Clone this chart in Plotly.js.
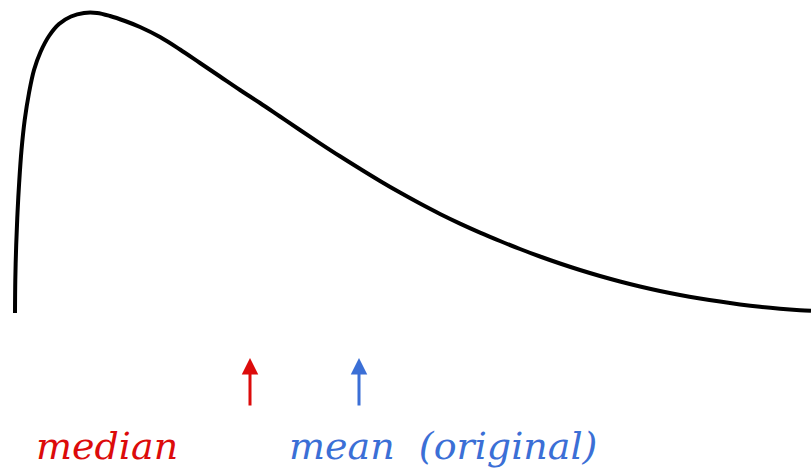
<!DOCTYPE html>
<html>
<head>
<meta charset="utf-8">
<script src="https://cdn.plot.ly/plotly-3.0.1.min.js"></script>
<style>html,body{margin:0;padding:0;background:#fff;}#chart{width:811px;height:474px;}</style>
</head>
<body>
<div id="chart"></div>
<script>
// Right-skewed density curve, sampled along the horizontal axis
const curveX = [15, 15.3, 16.2, 17.5, 19.2, 21.5, 24.7, 29, 34, 40.5, 49, 59, 71, 84, 97, 110, 125, 140, 160, 180, 200, 220, 240, 260, 280, 300, 320, 340, 360, 380, 400, 420, 440, 460, 480, 500, 520, 540, 560, 580, 600, 620, 640, 660, 680, 700, 720, 740, 760, 780, 800, 811];
const curveY = [313, 280, 245, 213, 182, 150, 120, 93, 70, 52, 36, 24, 16.5, 13, 13, 16, 21, 27, 37, 49.5, 63, 76.5, 90, 103, 116.5, 130, 143.3, 156.3, 168.8, 181, 192.6, 203.6, 214, 223.6, 232.6, 241, 249, 256.5, 263.5, 270, 276, 281.5, 286.5, 291, 295, 298.5, 301.6, 304.4, 306.8, 308.7, 310.2, 310.8];

// Marker positions for the two summary statistics
const statNames = ["median", "mean  (original)"];
const statX = [250, 359];
const statColors = ["#dc0b0b", "#3b6fd6"];
const arrowTipY = 358;
const arrowBaseY = 407;

// Label placement
const labelX = [34, 287];
const labelY = 446;

const trace = {
  x: curveX,
  y: curveY,
  mode: "lines",
  line: {color: "#000", width: 4, shape: "spline", smoothing: 1},
  hoverinfo: "skip"
};

const annotations = [];
statX.forEach((sx, i) => {
  annotations.push({
    x: sx, y: arrowTipY, ax: sx, ay: arrowBaseY,
    xref: "x", yref: "y", axref: "x", ayref: "y",
    showarrow: true, arrowhead: 2, arrowsize: 1.1, arrowwidth: 3,
    arrowcolor: statColors[i], text: ""
  });
  annotations.push({
    x: labelX[i], y: labelY, xref: "x", yref: "y",
    xanchor: "left", yanchor: "middle", showarrow: false,
    text: "<i>" + statNames[i] + "</i>",
    font: {family: "DejaVu Serif", size: 38, color: statColors[i]}
  });
});

const layout = {
  width: 811, height: 474,
  margin: {l: 0, r: 0, t: 0, b: 0},
  paper_bgcolor: "#fff", plot_bgcolor: "#fff",
  showlegend: false,
  xaxis: {range: [0, 811], visible: false, fixedrange: true},
  yaxis: {range: [474, 0], visible: false, fixedrange: true},
  annotations: annotations
};

Plotly.newPlot("chart", [trace], layout, {displayModeBar: false, staticPlot: true});
</script>
</body>
</html>
